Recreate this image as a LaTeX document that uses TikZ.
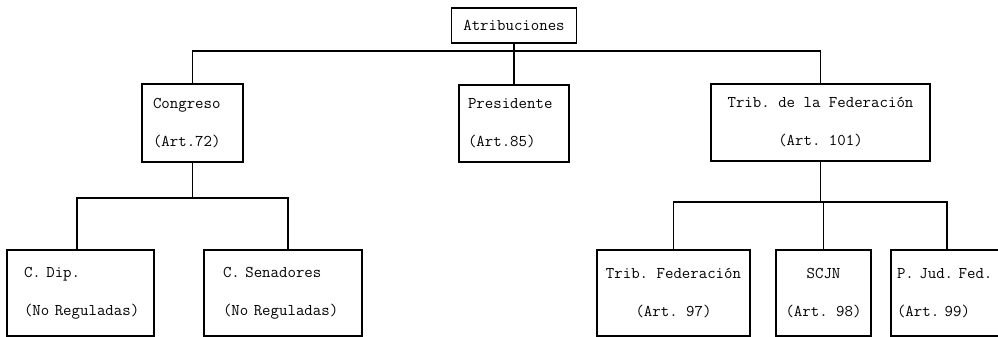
\documentclass[tikz,border=0pt]{standalone}
\usepackage{tikz}

\begin{document}
\begin{tikzpicture}[x=1pt, y=1pt,
                    %scale = 0.5,
                    atrect/.style={rectangle, draw = black, line width = 1.5pt,
                    font = \ttfamily\frenchspacing\fontsize{16.4}{38}\selectfont, inner sep = 0pt},
                    lrect/.style={atrect, align = left},
                    crect/.style={atrect, align = center},
                    conline/.style={line width = 1.5pt, draw = black}]

                    \useasboundingbox (0,0) rectangle (998,337);

                    \node[crect, minimum width = 125, minimum height = 35] (atrib) at (514,311.5) {Atribuciones};

                    \node[lrect, minimum width = 101, minimum height = 78, text width = 79] (congreso) at (192.5,214) {Congreso\\(Art.72)};
                    \node[lrect, minimum width = 110, minimum height = 77, text width = 92] (presidente) at (514,213.5) {Presidente\\(Art.85)};
                    \node[crect, minimum width = 219, minimum height = 77] (tribfed) at (820.5,214.5) {Trib. de la Federación\\(Art. 101)};

                    \node[lrect, minimum width = 147, minimum height = 86, text width = 113] (cdip) at (80.5,44) {C. Dip.\\(No~Reguladas)};
                    \node[lrect, minimum width = 158, minimum height = 86, text width = 120] (csen) at (283,44) {C. Senadores\\(No~Reguladas)};
                    \node[crect, minimum width = 153, minimum height = 86] (tribf) at (673.5,44) {Trib. Federación\\(Art. 97)};
                    \node[crect, minimum width = 95, minimum height = 86] (scjn) at (823.5,44) {SCJN\\(Art. 98)};
                    \node[lrect, minimum width = 116, minimum height = 86, text width = 104] (pjud) at (949,44) {P. Jud. Fed.\\(Art. 99)};

                    \coordinate (topbus) at (514,286);
                    \coordinate (cgbus) at (192.5,139);
                    \coordinate (tfbus) at (820.5,135);

                    \draw[conline] (atrib.south) -- (presidente.north);
                    \draw[conline] (congreso.north) |- (topbus) -| (tribfed.north);

                    \draw[conline] (congreso.south) -- (cgbus);
                    \draw[conline] ([xshift=-3.5pt]cdip.north) |- (cgbus) -| ([xshift=5pt]csen.north);

                    \draw[conline] (tribfed.south) -- (tfbus);
                    \draw[conline] (tribf.north) |- (tfbus) -| ([xshift=-2pt]pjud.north);
                    \draw[conline] (scjn.north) -- (scjn.north |- tfbus);
                    \end{tikzpicture}
\end{document}
